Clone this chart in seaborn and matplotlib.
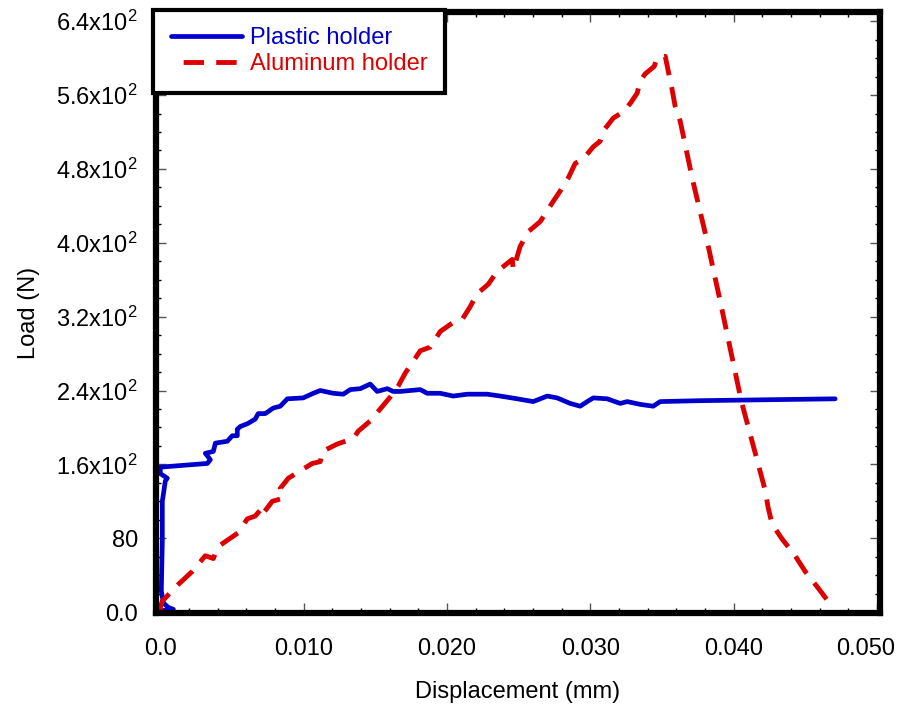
import numpy as np
import pandas as pd
import matplotlib
matplotlib.use("Agg")
import matplotlib.pyplot as plt
import matplotlib.transforms as mtransforms
from matplotlib.ticker import MultipleLocator
import seaborn as sns

# ---- data ----
plastic_x = [0.0000, 0.00035, 0.00091, 0.00056, 0.00021, 0.00007, 0.00014, 0.00014, 0.00035, 0.00049,
             0.0000, 0.0000, 0.00328, 0.00349, 0.00314, 0.00370, 0.00384, 0.00467, 0.00502, 0.00537,
             0.00537, 0.00558, 0.00607, 0.00662, 0.00683, 0.00732, 0.00788, 0.00837, 0.00886, 0.00997,
             0.01067, 0.01116, 0.01206, 0.01276, 0.01325, 0.01395, 0.01464, 0.01513, 0.01583, 0.01625,
             0.01674, 0.01813, 0.01862, 0.01953, 0.02043, 0.02141, 0.02280, 0.02371, 0.02490, 0.02601,
             0.02699, 0.02768, 0.02859, 0.02929, 0.02978, 0.03020, 0.03117, 0.03208, 0.03257, 0.03347,
             0.03438, 0.03487, 0.03766, 0.04707]
plastic_y = [1, 2, 3, 5, 10, 23, 77, 120, 142, 145,
             150, 157, 161, 165, 172, 174, 183, 185, 191, 191,
             198, 201, 204, 209, 215, 215, 221, 223, 231, 232,
             237, 240, 237, 236, 241, 242, 247, 239, 242, 239,
             239, 241, 237, 237, 234, 236, 236, 234, 231, 228,
             234, 232, 226, 223, 228, 232, 231, 226, 228, 225,
             223, 228, 229, 231]

alum_x = [0.0000, 0.0000, 0.00014, 0.00126, 0.00223, 0.00314, 0.00370, 0.00404, 0.00544, 0.00607,
          0.00662, 0.00711, 0.00718, 0.00781, 0.00851, 0.00837, 0.00893, 0.00997, 0.01060, 0.01116,
          0.01130, 0.01234, 0.01346, 0.01381, 0.01464, 0.01534, 0.01604, 0.01660, 0.01709, 0.01757,
          0.01813, 0.01883, 0.01953, 0.02036, 0.02106, 0.02162, 0.02211, 0.02287, 0.02350, 0.02455,
          0.02462, 0.02510, 0.02566, 0.02650, 0.02741, 0.02789, 0.02845, 0.02894, 0.02950, 0.03020,
          0.03068, 0.03089, 0.03159, 0.03229, 0.03278, 0.03326, 0.03347, 0.03382, 0.03445, 0.03466,
          0.03522, 0.03543, 0.03570, 0.03591, 0.03626, 0.03675, 0.03710, 0.03814, 0.03905, 0.04052,
          0.04219, 0.04240, 0.04268, 0.04338, 0.04428, 0.04498, 0.04589, 0.04686]
alum_y = [1, 5, 12, 30, 44, 61, 58, 71, 86, 101,
          104, 113, 107, 120, 123, 134, 145, 155, 161, 163,
          174, 182, 188, 196, 207, 220, 233, 245, 259, 270,
          283, 287, 304, 313, 317, 331, 345, 355, 369, 382,
          371, 396, 412, 423, 445, 456, 470, 486, 491, 504,
          510, 521, 535, 542, 551, 562, 575, 583, 591, 601,
          602, 586, 566, 548, 532, 496, 470, 402, 337, 229,
          132, 113, 95, 79, 61, 44, 26, 6]

series_names = ["Plastic holder", "Aluminum holder"]
x_ticks = [0.0, 0.010, 0.020, 0.030, 0.040, 0.050]
x_tick_labels = ["0.0", "0.010", "0.020", "0.030", "0.040", "0.050"]
y_ticks = [0, 80, 160, 240, 320, 400, 480, 560, 640]
y_tick_labels = ["0.0", "80", "1.6x10^{2}", "2.4x10^{2}", "3.2x10^{2}", "4.0x10^{2}",
                 "4.8x10^{2}", "5.6x10^{2}", "6.4x10^{2}"]

BLUE = "#0000CC"
RED = "#DD0000"
FS = 17

sns.set_theme(style="white")
plt.rcParams["font.family"] = ["Liberation Sans", "DejaVu Sans"]
plt.rcParams["mathtext.default"] = "regular"
plt.rcParams["mathtext.fontset"] = "custom"
plt.rcParams["mathtext.rm"] = "Liberation Sans"

fig = plt.figure(figsize=(9.14, 7.09), dpi=100)
ax = fig.add_axes([156 / 914, 1 - 613 / 709, (880 - 156) / 914, (613 - 12) / 709])

df_p = pd.DataFrame({"x": plastic_x, "y": plastic_y})
df_a = pd.DataFrame({"x": alum_x, "y": alum_y})
sns.lineplot(data=df_p, x="x", y="y", sort=False, estimator=None, color=BLUE, lw=3.4,
             ax=ax, label=series_names[0])
sns.lineplot(data=df_a, x="x", y="y", sort=False, estimator=None, color=RED, lw=3.5,
             ax=ax, label=series_names[1])
ax.get_lines()[1].set_dashes([4.2, 2.5])

ax.set_xlim(-0.0003, 0.0502)
ax.set_ylim(-1, 650)

ax.set_xticks(x_ticks)
ax.set_xticklabels(x_tick_labels)
ax.set_yticks(y_ticks)
ax.set_yticklabels(["$" + t + "$" if "^" in t else t for t in y_tick_labels])
ax.xaxis.set_minor_locator(MultipleLocator(0.002))
ax.yaxis.set_minor_locator(MultipleLocator(20))

ax.tick_params(which="both", direction="in", top=True, right=True, bottom=True, left=True,
               colors="black", labelsize=FS)
ax.tick_params(which="major", length=7, width=1.0, color="#555555")
ax.tick_params(which="minor", length=3.5, width=1.0, color="black")
ax.tick_params(axis="x", which="major", pad=18)
ax.tick_params(axis="y", which="major", pad=13)

# last x tick label sits slightly left of its tick in the reference
lab = ax.get_xticklabels()[-1]
lab.set_transform(lab.get_transform() + mtransforms.ScaledTranslation(-12 / 100, 0, fig.dpi_scale_trans))

for s in ax.spines.values():
    s.set_visible(True)
    s.set_linewidth(4.5)
    s.set_color("black")

ax.set_xlabel("Displacement (mm)", fontsize=FS, color="black", labelpad=15)
ax.set_ylabel("Load (N)", fontsize=FS, color="black", labelpad=12)

leg = ax.legend(loc="upper left", bbox_to_anchor=(-0.004, 1.004), borderaxespad=0,
                frameon=True, fancybox=False, framealpha=1, fontsize=FS, handlelength=3.0,
                handletextpad=0.35, borderpad=0.75, labelspacing=0.15)
leg.get_frame().set_edgecolor("black")
leg.get_frame().set_linewidth(3.0)
for txt, c in zip(leg.get_texts(), [BLUE, RED]):
    txt.set_color(c)
leg_lines = leg.get_lines()
leg_lines[1].set_linestyle((4.2, (4.2, 2.5)))
ax.grid(False)

fig.savefig("out.png", dpi=100)
